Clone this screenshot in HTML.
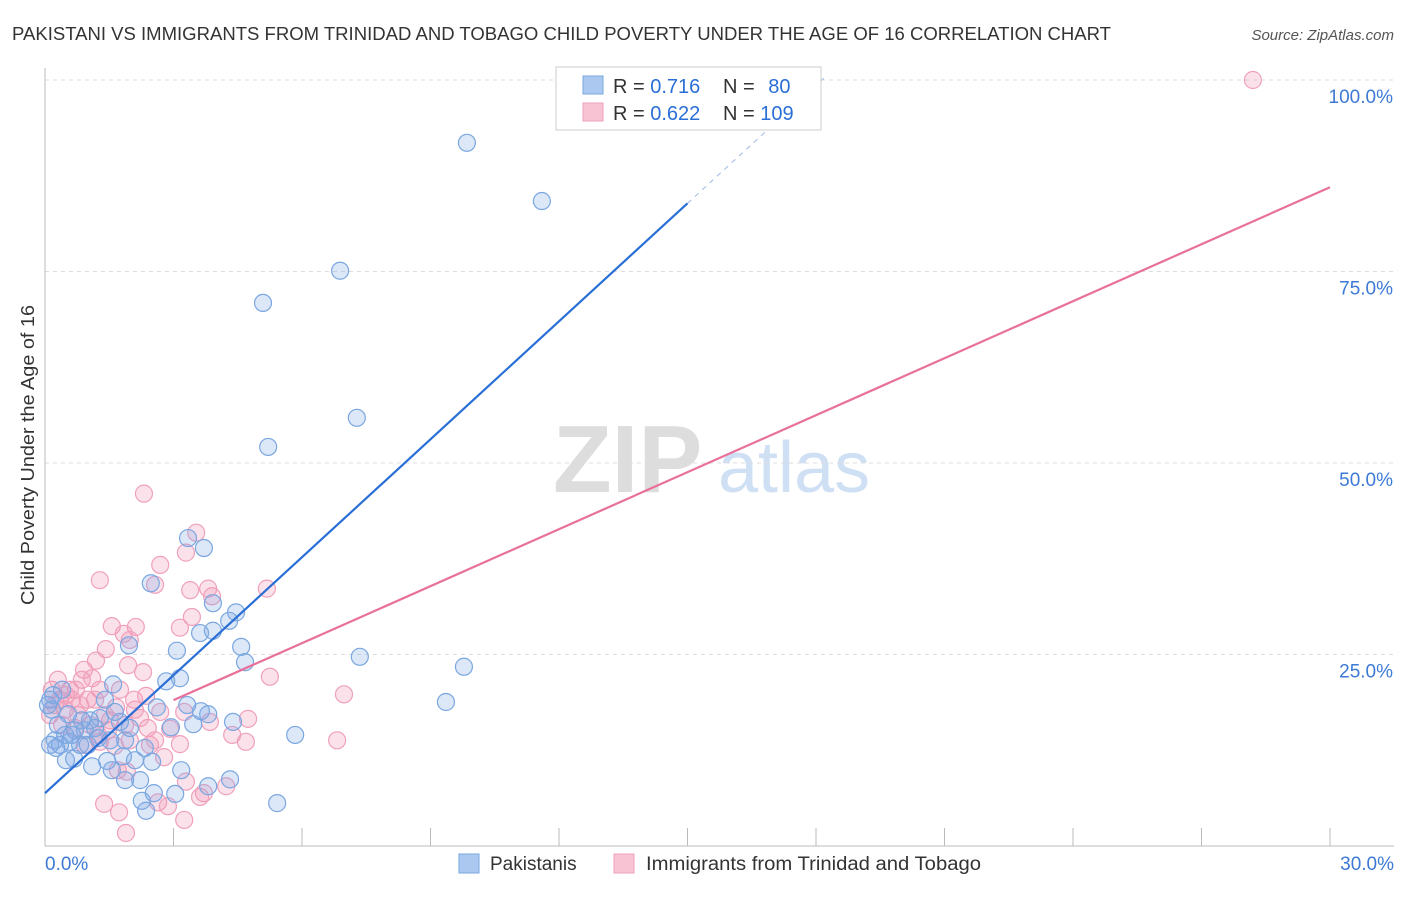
<!DOCTYPE html>
<html><head><meta charset="utf-8"><style>
body{margin:0;background:#fff;font-family:"Liberation Sans",sans-serif;}
svg text{font-family:"Liberation Sans",sans-serif;}
</style></head><body>
<svg id="chart" width="1406" height="892" xmlns="http://www.w3.org/2000/svg">
<text x="12" y="40" font-size="18" fill="#333" textLength="1099" lengthAdjust="spacingAndGlyphs">PAKISTANI VS IMMIGRANTS FROM TRINIDAD AND TOBAGO CHILD POVERTY UNDER THE AGE OF 16 CORRELATION CHART</text>
<text x="1394" y="40" font-size="15" fill="#555" text-anchor="end" font-style="italic">Source: ZipAtlas.com</text>
<g>
<text x="553" y="492" font-size="96" fill="#ddd" font-family="Liberation Serif" font-weight="bold">ZIP</text>
<text x="718" y="492" font-size="72" fill="#cfe0f5">atlas</text>
</g>
<text transform="translate(34,455) rotate(-90)" font-size="18" fill="#333" text-anchor="middle" textLength="300" lengthAdjust="spacingAndGlyphs">Child Poverty Under the Age of 16</text>
<g id="grid"></g><g id="axes"></g><g id="pts"></g><g id="lines"></g>
<g>
<rect x="556" y="67" width="265" height="63" fill="#fff" stroke="#ccc"/>
<rect x="583" y="76" width="20" height="18" fill="#aac8f0" stroke="#7aa7e0"/>
<rect x="583" y="103" width="20" height="18" fill="#f8c4d4" stroke="#f0a0bb"/>
<text x="613" y="93" font-size="20" fill="#333">R = <tspan fill="#2a6fd6">0.716</tspan></text>
<text x="723" y="93" font-size="20" fill="#333">N = <tspan fill="#2a6fd6" dx="8">80</tspan></text>
<text x="613" y="120" font-size="20" fill="#333">R = <tspan fill="#2a6fd6">0.622</tspan></text>
<text x="723" y="120" font-size="20" fill="#333">N = <tspan fill="#2a6fd6">109</tspan></text>
</g>
<g>
<rect x="459" y="854" width="20" height="19" fill="#aac8f0" stroke="#7aa7e0"/>
<text x="490" y="870" font-size="19" fill="#333">Pakistanis</text>
<rect x="614" y="854" width="20" height="19" fill="#f8c4d4" stroke="#f0a0bb"/>
<text x="646" y="870" font-size="19" fill="#333" textLength="335" lengthAdjust="spacingAndGlyphs">Immigrants from Trinidad and Tobago</text>
</g>
</svg>
<script>
const xTicks=[0,3,6,9,12,15,18,21,24,27,30];
const yTicks=[25,50,75,100];
const yTickLabels=["25.0%","50.0%","75.0%","100.0%"];
const blueX=[9.85,11.6,6.89,5.09,7.28,5.21,3.34,3.71,3.92,4.46,4.30,3.62,3.92,2.47,1.96,3.08,4.58,4.67,7.35,9.78,9.36,2.83,3.15,1.59,2.61,3.32,3.64,3.81,3.46,4.39,2.94,5.84,2.33,2.50,1.45,1.82,3.18,3.81,4.32,1.87,2.54,3.04,2.26,2.36,5.42,1.10,0.68,0.23,0.35,0.58,0.82,0.47,1.05,1.28,1.75,1.98,0.12,0.16,0.54,0.93,1.24,1.52,0.70,0.40,0.19,0.07,0.30,0.49,1.00,1.40,1.63,1.17,0.86,0.63,0.26,1.56,2.22,0.12,1.87,2.10];
const blueY=[91.8,84.2,75.1,70.9,55.9,52.1,40.2,38.9,31.7,30.5,29.4,27.8,28.1,34.3,26.2,25.5,26.0,24.0,24.7,23.4,18.8,21.5,21.9,21.1,18.1,18.4,17.6,17.2,15.9,16.2,15.5,14.5,12.8,11.0,11.1,11.7,9.9,7.8,8.7,8.6,6.9,6.8,5.9,4.6,5.6,10.4,11.4,13.8,13.2,13.6,13.2,14.5,16.4,16.7,16.2,15.4,19.1,17.8,17.2,15.1,14.1,13.8,15.1,20.4,19.7,18.4,15.8,11.2,13.2,19.1,17.5,15.4,16.4,14.5,12.8,9.9,8.6,13.2,13.8,11.2];
const pinkX=[28.2,2.31,3.53,3.29,2.69,1.28,2.57,3.39,3.81,3.90,5.18,3.43,1.56,2.12,3.15,1.84,1.98,1.42,1.19,1.94,2.29,0.91,0.86,1.10,5.25,6.98,1.28,0.72,1.00,1.66,2.08,2.36,2.69,3.25,3.85,4.74,4.37,4.69,2.92,2.40,1.98,1.63,1.28,3.15,6.82,2.78,1.70,1.91,3.29,3.71,4.23,3.62,2.64,1.38,1.73,2.87,3.25,1.89,0.35,0.23,0.47,0.58,0.12,0.77,1.05,0.93,1.52,1.75,1.17,1.40,2.22,2.45,0.40,0.16,0.63,0.30,0.49,0.82,0.70,1.24,1.47,1.87,2.10,2.57];
const pinkY=[100,46.0,40.9,38.3,36.7,34.7,34.1,33.4,33.6,32.6,33.6,29.9,28.7,28.6,28.5,27.7,26.9,25.7,24.2,23.6,22.7,23.0,21.7,21.9,22.1,19.8,20.4,20.4,19.1,18.1,19.1,19.6,17.5,17.5,16.2,16.6,14.5,13.6,15.3,15.4,13.8,13.1,13.6,13.3,13.8,11.6,9.9,9.7,8.4,6.9,7.8,6.4,5.7,5.5,4.4,5.2,3.4,1.7,19.1,18.4,17.8,20.4,17.1,17.1,15.8,13.2,16.4,20.4,19.1,17.1,16.7,13.2,15.8,20.4,19.1,21.7,19.7,18.4,15.4,14.5,15.1,15.8,17.8,13.8];
const blueFit=[6.9,83.9]; // y at x=0, x=15
const pinkFit=[11.6,86.0]; // y at x=0, x=30
const NS="http://www.w3.org/2000/svg";
const X=v=>45+v*(1285/30), Y=v=>846-v*7.66;
function mk(t,a,p){const e=document.createElementNS(NS,t);for(const k in a)e.setAttribute(k,a[k]);p.appendChild(e);return e;}
const grid=document.getElementById('grid'),axes=document.getElementById('axes'),pts=document.getElementById('pts'),lines=document.getElementById('lines');
yTicks.forEach((t,i)=>{
 const l=mk('line',{x1:45,x2:1394,y1:Y(t),y2:Y(t),stroke:'#ddd','stroke-dasharray':'4,4'},grid);
 
 
 const tx=mk('text',{x:1393,y:Y(t)+23,'font-size':19,fill:'#3d7ad6','text-anchor':'end'},axes);
 tx.textContent=yTickLabels[i];
 
 
});
const ax=mk('line',{x1:45,x2:1394,y1:846,y2:846,stroke:'#bbb'},axes);


const ay=mk('line',{x1:45,x2:45,y1:68,y2:846,stroke:'#bbb'},axes);


xTicks.forEach(t=>{
 const l=mk('line',{x1:X(t),x2:X(t),y1:828,y2:846,stroke:'#bbb'},axes);
 
 
});
const xl0=mk('text',{x:45,y:870,'font-size':19,fill:'#3d7ad6'},axes);xl0.textContent='0.0%';


const xl1=mk('text',{x:1394,y:870,'font-size':19,fill:'#3d7ad6','text-anchor':'end'},axes);xl1.textContent='30.0%';


pinkX.forEach((v,i)=>{
 const c=mk('circle',{cx:X(v),cy:Y(pinkY[i]),r:8.5,fill:'rgba(242,150,180,0.28)',stroke:'#f0a0bb','stroke-width':1.2},pts);
 
 
});
blueX.forEach((v,i)=>{
 const c=mk('circle',{cx:X(v),cy:Y(blueY[i]),r:8.5,fill:'rgba(130,170,230,0.28)',stroke:'#7aa7e0','stroke-width':1.2},pts);
 
 
});
const bs=(blueFit[1]-blueFit[0])/15;
const bl=mk('line',{x1:X(0),y1:Y(blueFit[0]),x2:X(15),y2:Y(blueFit[1]),stroke:'#2a6fd6','stroke-width':2.2},lines);


const bd=mk('line',{x1:X(15),y1:Y(blueFit[1]),x2:X(18.2),y2:Y(blueFit[0]+bs*18.2),stroke:'#9bb9e6','stroke-width':1,'stroke-dasharray':'5,5'},lines);


const pl=mk('line',{x1:X(3),y1:Y(pinkFit[0]+(pinkFit[1]-pinkFit[0])/30*3),x2:X(30),y2:Y(pinkFit[1]),stroke:'#e8709a','stroke-width':2.2},lines);


</script>
</body></html>
